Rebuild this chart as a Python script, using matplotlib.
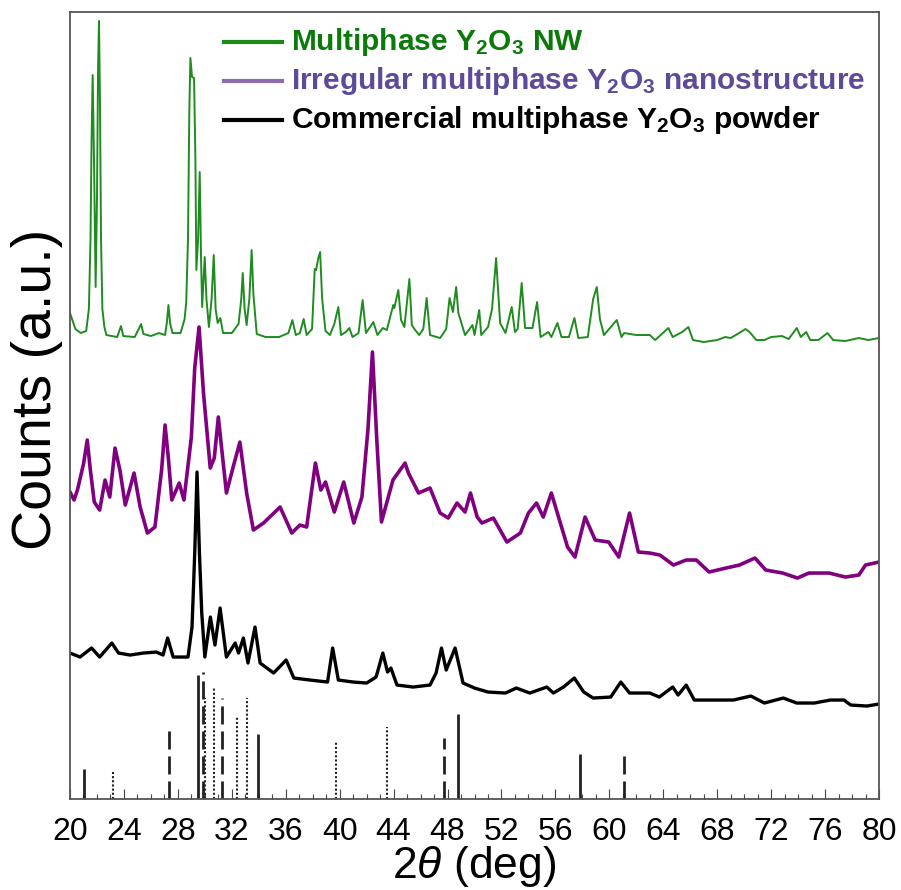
import matplotlib
matplotlib.use("Agg")
import matplotlib.pyplot as plt
from matplotlib.ticker import MultipleLocator

plt.rcParams["font.family"] = ["Liberation Sans", "DejaVu Sans"]
plt.rcParams["mathtext.fontset"] = "custom"
plt.rcParams["mathtext.rm"] = "Liberation Sans"
plt.rcParams["mathtext.it"] = "Liberation Sans:italic"
plt.rcParams["mathtext.bf"] = "Liberation Sans:bold"

# traces: 2theta (deg) and counts (a.u., stacked offsets included)
NW_X = [20.00, 20.40, 20.80, 21.20, 21.40, 21.52, 21.60, 21.68, 21.78, 21.90, 22.00, 22.08,
        22.15, 22.22, 22.30, 22.40, 22.55, 22.70, 23.50, 23.78, 23.95, 24.80, 25.27, 25.45,
        26.00, 26.60, 27.05, 27.18, 27.30, 27.42, 27.60, 28.20, 28.50, 28.62, 28.75, 28.85,
        28.93, 29.05, 29.20, 29.30, 29.37, 29.50, 29.62, 29.72, 29.80, 29.99, 30.12, 30.30,
        30.50, 30.66, 30.80, 30.95, 31.15, 31.35, 32.00, 32.50, 32.70, 32.81, 32.95, 33.10,
        33.30, 33.47, 33.60, 33.85, 34.50, 35.50, 36.20, 36.49, 36.75, 37.05, 37.33, 37.55,
        37.95, 38.15, 38.25, 38.40, 38.55, 38.70, 38.95, 39.28, 39.60, 39.90, 40.10, 40.45,
        40.72, 40.95, 41.40, 41.70, 41.95, 42.50, 42.80, 43.20, 43.50, 43.80, 43.98, 44.05,
        44.35, 44.55, 44.80, 45.17, 45.35, 45.60, 45.90, 46.20, 46.45, 46.70, 47.45, 47.90,
        48.15, 48.40, 48.64, 48.80, 49.30, 49.85, 50.00, 50.35, 50.50, 51.00, 51.30, 51.48,
        51.60, 51.72, 51.90, 52.30, 52.76, 53.00, 53.20, 53.50, 53.75, 54.30, 54.64, 54.90,
        55.48, 55.70, 56.15, 56.45, 57.00, 57.41, 57.70, 58.40, 58.80, 59.07, 59.30, 59.60,
        60.55, 60.90, 61.10, 62.00, 63.00, 63.40, 64.38, 64.70, 65.40, 65.86, 66.20, 67.00,
        68.00, 68.60, 69.00, 69.50, 70.10, 70.40, 70.90, 71.50, 72.00, 72.80, 73.30, 73.90,
        74.20, 74.60, 74.90, 75.50, 76.18, 76.60, 77.50, 78.50, 79.20, 80.00]
NW_Y = [486, 470, 466, 468, 490, 560, 660, 724, 640, 512, 600, 730,
        778, 700, 560, 490, 472, 464, 462, 473, 463, 462, 475, 465,
        463, 466, 464, 476, 494, 476, 466, 466, 480, 497, 560, 690,
        741, 722, 721, 640, 529, 560, 627, 540, 492, 542, 500, 472,
        500, 544, 490, 476, 481, 466, 466, 475, 500, 526, 490, 474,
        500, 549, 505, 465, 462, 462, 466, 479, 464, 466, 480, 464,
        470, 530, 529, 540, 547, 500, 468, 464, 475, 492, 464, 467,
        471, 462, 466, 499, 466, 477, 464, 471, 469, 485, 494, 491,
        509, 479, 472, 520, 474, 469, 464, 470, 501, 464, 461, 470,
        501, 487, 512, 486, 464, 474, 464, 489, 464, 472, 490, 520,
        541, 515, 476, 466, 492, 467, 470, 516, 471, 471, 497, 462,
        467, 462, 476, 462, 462, 481, 461, 462, 500, 512, 480, 464,
        479, 462, 466, 464, 464, 459, 471, 462, 467, 472, 459, 457,
        459, 462, 461, 465, 470, 467, 459, 459, 462, 463, 460, 471,
        462, 467, 459, 459, 466, 459, 458, 461, 459, 461]

IRR_X = [20.00, 20.30, 20.55, 21.00, 21.28, 21.50, 21.80, 22.20, 22.60, 22.95, 23.34, 23.70,
         24.10, 24.75, 25.20, 25.74, 26.30, 26.80, 27.05, 27.30, 27.55, 28.10, 28.45, 29.00,
         29.25, 29.57, 29.90, 30.40, 30.70, 31.00, 31.60, 32.10, 32.60, 33.10, 33.60, 34.35,
         35.58, 36.45, 37.05, 37.55, 38.20, 38.60, 38.95, 39.60, 40.30, 41.05, 41.65, 42.10,
         42.43, 42.75, 43.10, 43.95, 44.85, 45.10, 45.85, 46.70, 47.45, 48.05, 48.70, 49.30,
         49.70, 50.20, 50.55, 51.40, 51.90, 52.40, 53.40, 54.00, 54.60, 55.10, 55.70, 56.30,
         56.90, 57.45, 58.20, 58.95, 59.95, 60.70, 61.50, 62.15, 63.00, 63.75, 64.75, 65.70,
         66.45, 67.40, 68.65, 69.65, 70.80, 71.60, 72.85, 73.95, 74.80, 76.30, 77.50, 78.50,
         79.00, 80.00]
IRR_Y = [307, 299, 309, 335, 359, 330, 297, 289, 319, 302, 351, 329,
         294, 326, 292, 266, 272, 330, 374, 340, 299, 316, 299, 362,
         431, 472, 406, 331, 341, 382, 306, 332, 357, 306, 269, 276,
         292, 266, 274, 272, 336, 309, 317, 287, 317, 276, 302, 370,
         447, 360, 277, 319, 336, 326, 306, 311, 286, 281, 296, 287,
         306, 282, 276, 281, 269, 257, 266, 286, 296, 282, 306, 279,
         252, 242, 282, 259, 257, 242, 286, 247, 246, 244, 234, 239,
         239, 227, 231, 234, 241, 229, 226, 221, 226, 226, 222, 224,
         234, 237]

COM_X = [20.00, 20.74, 21.60, 22.20, 23.10, 23.60, 24.45, 25.45, 26.40, 26.90, 27.24, 27.65,
         28.75, 29.05, 29.25, 29.42, 29.60, 29.77, 30.00, 30.41, 30.75, 31.13, 31.60, 32.25,
         32.50, 32.86, 33.20, 33.72, 34.10, 35.10, 36.03, 36.60, 37.80, 39.10, 39.48, 39.90,
         41.00, 42.00, 42.70, 43.20, 43.55, 43.80, 44.25, 45.45, 46.70, 47.15, 47.55, 47.90,
         48.56, 49.15, 50.00, 51.00, 52.30, 53.10, 54.10, 55.36, 55.85, 56.60, 57.40, 58.10,
         58.80, 60.10, 60.85, 61.50, 63.00, 63.70, 64.70, 65.10, 65.70, 66.30, 67.50, 69.20,
         70.50, 71.50, 72.90, 73.90, 75.20, 76.40, 77.40, 77.90, 79.10, 80.00]
COM_Y = [146, 142, 151, 142, 156, 146, 144, 146, 147, 144, 161, 142,
         142, 172, 246, 327, 246, 186, 142, 182, 154, 191, 142, 156,
         146, 161, 136, 172, 136, 126, 139, 121, 119, 117, 151, 119,
         117, 116, 122, 146, 127, 131, 114, 112, 114, 126, 151, 129,
         151, 116, 111, 107, 106, 111, 106, 112, 106, 112, 121, 107,
         101, 102, 117, 106, 106, 102, 112, 104, 114, 99, 99, 99,
         103, 96, 101, 96, 96, 99, 99, 94, 93, 95]

# reference pattern sticks, grouped by line style
SOLID_POS = [21.04, 29.46, 33.92, 48.74, 57.80]
SOLID_H = [30, 124, 65, 85, 45]
DASH_POS = [27.35, 29.83, 31.30, 47.75, 61.05]
DASH_H = [70, 127, 101, 61, 43]
DOT_POS = [23.20, 30.00, 30.70, 32.40, 33.10, 39.73, 43.50]
DOT_H = [27, 101, 111, 82, 101, 57, 72]

LABELS = [r"Multiphase Y$_\mathbf{2}$O$_\mathbf{3}$ NW",
          r"Irregular multiphase Y$_\mathbf{2}$O$_\mathbf{3}$ nanostructure",
          r"Commercial multiphase Y$_\mathbf{2}$O$_\mathbf{3}$ powder"]
LINE_COLORS = ["#1f8c1f", "#800080", "#000000"]
HANDLE_COLORS = ["#1a8a1a", "#8e6bb0", "#000000"]
TEXT_COLORS = ["#0b7a0b", "#5d4b9a", "#000000"]

fig = plt.figure(figsize=(9.01, 8.90), dpi=100)
ax = fig.add_axes([0.0777, 0.1022, 0.8979, 0.8843])

ax.plot(NW_X, NW_Y, color=LINE_COLORS[0], lw=1.4)
ax.plot(IRR_X, IRR_Y, color=LINE_COLORS[1], lw=2.6)
ax.plot(COM_X, COM_Y, color=LINE_COLORS[2], lw=2.4)

ax.vlines(SOLID_POS, 0, SOLID_H, colors="#222222", linewidth=2.0)
ax.vlines(DASH_POS, 0, DASH_H, colors="#222222", linewidth=2.0,
          linestyles=[(0, (6.5, 2.5))])
ax.vlines(DOT_POS, 0, DOT_H, colors="#222222", linewidth=1.5,
          linestyles=[(0, (1, 1))])

ax.set_xlim(20, 80)
ax.set_ylim(0, 787)
ax.set_yticks([])
ax.xaxis.set_major_locator(MultipleLocator(4))
ax.xaxis.set_minor_locator(MultipleLocator(1))
ax.tick_params(axis="x", which="major", direction="in", length=7, width=0.8,
               color="#444444", labelsize=23, pad=13)
ax.tick_params(axis="x", which="minor", direction="in", length=3.5, width=0.8,
               color="#444444")
for sp in ax.spines.values():
    sp.set_color("#555555")
    sp.set_linewidth(1.3)

ax.set_xlabel(r"2$\theta$ (deg)", fontsize=32, labelpad=-2)
ax.set_ylabel("Counts (a.u.)", fontsize=40)
ax.yaxis.set_label_coords(-0.009, 0.52)

# legend drawn by hand so the rows sit where the original has them
rows = [0.962, 0.912, 0.863]
for i, y in enumerate(rows):
    ax.plot([0.190, 0.262], [y, y], transform=ax.transAxes,
            color=HANDLE_COLORS[i], lw=3)
    ax.text(0.273, y, LABELS[i], transform=ax.transAxes, va="center",
            ha="left", fontsize=21.5, fontweight="bold", color=TEXT_COLORS[i])

fig.savefig("out.png", dpi=100)
